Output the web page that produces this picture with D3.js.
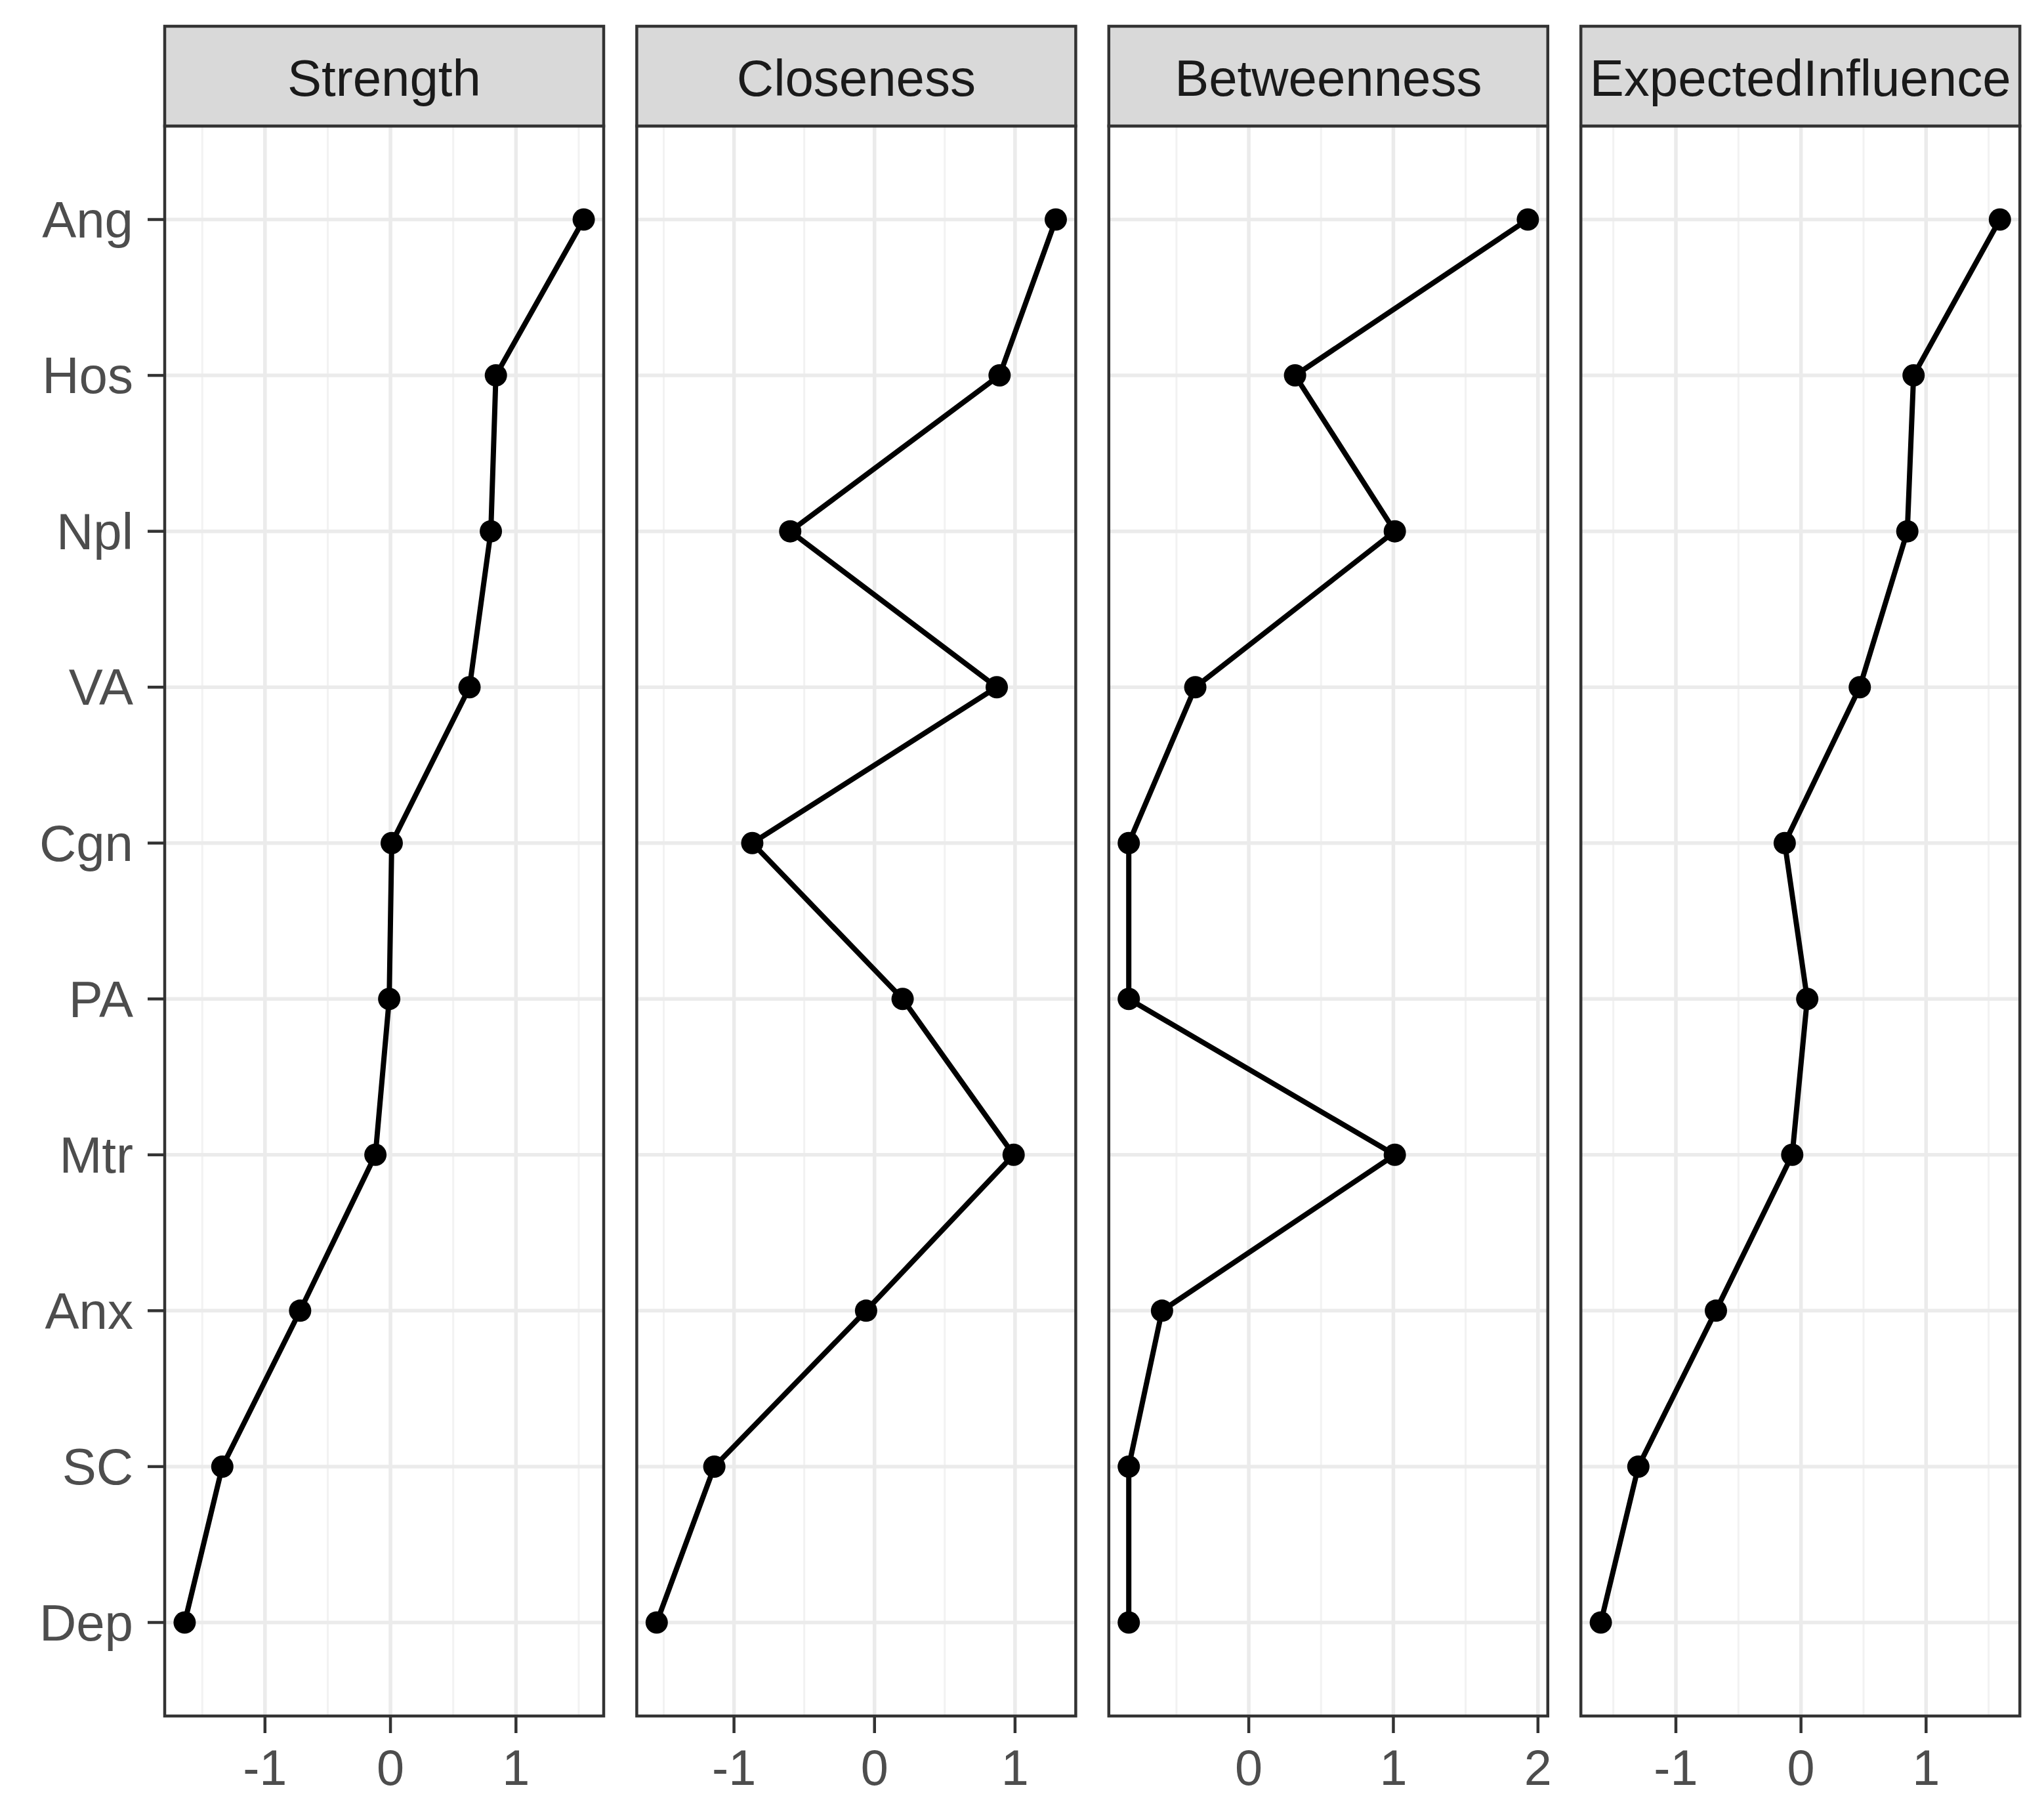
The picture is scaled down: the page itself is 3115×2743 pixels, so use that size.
<!DOCTYPE html>
<html>
<head>
<meta charset="utf-8">
<script src="https://cdn.jsdelivr.net/npm/d3@7"></script>
<style>
  body { margin: 0; background: #fff; }
  svg { display: block; }
</style>
</head>
<body>
<div id="chart"></div>
<script>
// centrality indices (z-scores), one array per measure, rows top to bottom
const nodes = ["Ang", "Hos", "Npl", "VA", "Cgn", "PA", "Mtr", "Anx", "SC", "Dep"];
const measures = ["Strength", "Closeness", "Betweenness", "ExpectedInfluence"];
const strength = [1.54, 0.84, 0.80, 0.63, 0.01, -0.01, -0.12, -0.72, -1.34, -1.64];
const closeness = [1.29, 0.89, -0.60, 0.87, -0.87, 0.20, 0.99, -0.06, -1.14, -1.55];
const betweenness = [1.93, 0.32, 1.01, -0.37, -0.83, -0.83, 1.01, -0.60, -0.83, -0.83];
const expectedInfluence = [1.59, 0.90, 0.85, 0.47, -0.13, 0.05, -0.07, -0.68, -1.30, -1.60];
const xTicks = [[-1, 0, 1], [-1, 0, 1], [0, 1, 2], [-1, 0, 1]];
const xTickLabels = [["-1", "0", "1"], ["-1", "0", "1"], ["0", "1", "2"], ["-1", "0", "1"]];

const series = [strength, closeness, betweenness, expectedInfluence];

const W = 3115, H = 2743;
const panelLeft = 251, panelW = 669, panelGap = 50.4;
const stripTop = 40, panelTop = 192, panelBottom = 2615;
const fontSize = 78;
const font = "'Liberation Sans', Arial, sans-serif";

const svg = d3.select("#chart").append("svg")
  .attr("width", W).attr("height", H);

svg.append("rect").attr("width", W).attr("height", H).attr("fill", "#fff");

// shared discrete y, ggplot style 0.6 padding
const y = d3.scalePoint().domain(nodes).range([panelTop, panelBottom]).padding(0.6);

// y axis labels + ticks (left of first panel only)
const yAxis = svg.append("g");
nodes.forEach(n => {
  yAxis.append("line")
    .attr("x1", panelLeft - 26).attr("x2", panelLeft)
    .attr("y1", y(n)).attr("y2", y(n))
    .attr("stroke", "#333").attr("stroke-width", 4.5);
  yAxis.append("text")
    .attr("x", panelLeft - 48).attr("y", y(n)).attr("dy", "0.35em")
    .attr("text-anchor", "end")
    .attr("font-family", font).attr("font-size", fontSize)
    .attr("fill", "#4D4D4D")
    .text(n);
});

measures.forEach((m, i) => {
  const vals = series[i];
  const x0 = panelLeft + i * (panelW + panelGap);
  const ext = d3.extent(vals);
  const pad = (ext[1] - ext[0]) * 0.05;
  const x = d3.scaleLinear().domain([ext[0] - pad, ext[1] + pad]).range([x0, x0 + panelW]);

  const g = svg.append("g");

  // minor grid: midpoints of majors, extended while inside the domain
  const majors = xTicks[i];
  const step = majors[1] - majors[0];
  const minors = [];
  for (let v = majors[0] - step / 2; v <= x.domain()[1]; v += step) {
    if (v >= x.domain()[0]) minors.push(v);
  }
  g.selectAll(".minor").data(minors).enter().append("line")
    .attr("x1", d => x(d)).attr("x2", d => x(d))
    .attr("y1", panelTop).attr("y2", panelBottom)
    .attr("stroke", "#F2F2F2").attr("stroke-width", 3);

  g.selectAll(".majorx").data(majors).enter().append("line")
    .attr("x1", d => x(d)).attr("x2", d => x(d))
    .attr("y1", panelTop).attr("y2", panelBottom)
    .attr("stroke", "#EBEBEB").attr("stroke-width", 5.5);

  g.selectAll(".majory").data(nodes).enter().append("line")
    .attr("x1", x0).attr("x2", x0 + panelW)
    .attr("y1", d => y(d)).attr("y2", d => y(d))
    .attr("stroke", "#EBEBEB").attr("stroke-width", 5.5);

  // data line and points
  const line = d3.line()
    .x((d, j) => x(d))
    .y((d, j) => y(nodes[j]));
  g.append("path").datum(vals)
    .attr("d", line)
    .attr("fill", "none").attr("stroke", "#000")
    .attr("stroke-width", 8).attr("stroke-linejoin", "round");

  g.selectAll(".pt").data(vals).enter().append("circle")
    .attr("cx", d => x(d)).attr("cy", (d, j) => y(nodes[j]))
    .attr("r", 17).attr("fill", "#000");

  // panel border
  g.append("rect")
    .attr("x", x0).attr("y", panelTop)
    .attr("width", panelW).attr("height", panelBottom - panelTop)
    .attr("fill", "none").attr("stroke", "#333").attr("stroke-width", 4.5);

  // strip
  g.append("rect")
    .attr("x", x0).attr("y", stripTop)
    .attr("width", panelW).attr("height", panelTop - stripTop)
    .attr("fill", "#D9D9D9").attr("stroke", "#333").attr("stroke-width", 4.5);
  g.append("text")
    .attr("x", x0 + panelW / 2).attr("y", (stripTop + panelTop) / 2).attr("dy", "0.38em")
    .attr("text-anchor", "middle")
    .attr("font-family", font).attr("font-size", fontSize)
    .attr("fill", "#1A1A1A")
    .text(m);

  // x axis ticks and labels
  majors.forEach((t, k) => {
    g.append("line")
      .attr("x1", x(t)).attr("x2", x(t))
      .attr("y1", panelBottom).attr("y2", panelBottom + 26)
      .attr("stroke", "#333").attr("stroke-width", 4.5);
    g.append("text")
      .attr("x", x(t)).attr("y", panelBottom + 105)
      .attr("text-anchor", "middle")
      .attr("font-family", font).attr("font-size", fontSize * 0.97)
      .attr("fill", "#4D4D4D")
      .text(xTickLabels[i][k]);
  });
});
</script>
</body>
</html>
